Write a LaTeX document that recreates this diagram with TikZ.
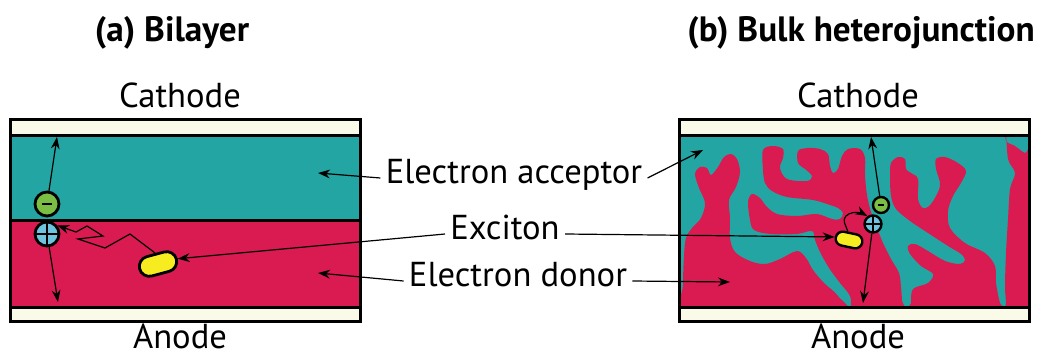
\documentclass[tikz,border=0pt]{standalone}
\usepackage{fontspec}
\setmainfont{PT Sans}
\usetikzlibrary{arrows.meta}
\usetikzlibrary{shapes.misc, calc}

\definecolor{acceptor}{RGB}{35,166,163}
\definecolor{donor}{RGB}{218,27,82}
\definecolor{electrode}{RGB}{250,250,233}
\definecolor{electron}{RGB}{122,190,67}
\definecolor{hole}{RGB}{110,196,222}
\definecolor{pair}{RGB}{246,236,32}

\tikzset{
  frame/.style={line width=1.5pt},
  txt/.style={font=\fontsize{17.3}{20}\selectfont, inner xsep=2.5pt},
  heading/.style={font=\fontsize{17.6}{20}\selectfont\bfseries},
  charge/.style={circle, draw, inner sep=0pt},
  minus/.style={charge, fill=electron, path picture={
      \draw[line width=1.3pt]
        ($(path picture bounding box.center)!0.4!(path picture bounding box.west)$) --
        ($(path picture bounding box.center)!0.4!(path picture bounding box.east)$);}},
  plus/.style={charge, fill=hole, path picture={
      \draw[line width=0.8pt]
        (path picture bounding box.north) -- (path picture bounding box.south)
        (path picture bounding box.west) -- (path picture bounding box.east);}},
  capsule/.style={rounded rectangle, draw, fill=pair, inner sep=0pt},
  hop/.style={line width=0.6pt}
}

\begin{document}
\begin{tikzpicture}[x=0.5pt,y=-0.5pt,>={Stealth[length=6pt,width=4.4pt]}]

\useasboundingbox (0,0) rectangle (1043,358);

\node[heading, anchor=base] (ta) at (172,42) {(a) Bilayer};
\node[heading, anchor=base] (tb) at (861,42) {(b) Bulk heterojunction};

\node[txt, anchor=base] (cta) at (180,107) {Cathode};
\node[txt, anchor=base] (ctb) at (858,107) {Cathode};
\node[txt, anchor=base, inner ysep=0pt] (ana) at (180,348) {Anode};
\node[txt, anchor=base, inner ysep=0pt] (anb) at (858,348) {Anode};

% bilayer
\fill[acceptor] (10,135) rectangle (360,220);
\fill[donor] (10,220) rectangle (360,307);
\draw[frame] (10,220) -- (360,220);

% blend
\begin{scope}
\clip (680,135) rectangle (1028,307);
\fill[acceptor] (680,135) rectangle (1028,307);
\fill[donor] plot[smooth cycle, tension=0.55] coordinates {
  (684,315) (683,285) (684,255) (686,238) (692,228) (701,218) (705,203)
  (699,188) (695,174) (700,167) (707,168) (711,175) (718,167) (724,157)
  (731,154) (737,159) (740,172) (736,187) (729,200) (730,218) (730,238)
  (735,252) (750,261) (765,264) (780,259) (797,251) (806,258) (813,270)
  (824,283) (838,296) (846,315) (760,318)};
\fill[donor] plot[smooth cycle, tension=0.55] coordinates {
  (763,150) (763,170) (765,183) (772,191) (787,197) (813,200) (830,205)
  (838,208) (843,213) (840,219) (832,219) (817,214) (797,216) (777,214)
  (766,206) (760,198) (752,194) (748,202) (750,220) (754,230) (770,234)
  (797,234) (812,231) (815,240) (820,252) (829,268) (840,283) (850,296)
  (856,315) (903,315) (902,300) (901,287) (899,273) (891,259) (883,243)
  (877,228) (871,212) (867,195) (865,175) (865,158) (860,149) (848,149)
  (842,156) (838,169) (833,173) (830,166) (828,154) (820,149) (807,148)
  (798,151) (798,163) (805,169) (812,176) (807,181) (787,179) (780,168)
  (783,158) (783,149) (773,146)};
\fill[donor] plot[smooth cycle, tension=0.55] coordinates {
  (891,163) (898,157) (905,159) (906,169) (911,173) (918,179) (918,199)
  (923,208) (931,204) (940,186) (936,169) (936,159) (945,157) (958,163)
  (966,171) (961,183) (953,196) (948,211) (950,228) (965,243) (985,253)
  (995,266) (996,283) (1000,303) (1005,315) (911,315) (911,303) (913,289)
  (928,283) (933,274) (921,266) (910,254) (908,246) (915,244) (928,251)
  (945,261) (960,264) (965,260) (961,254) (948,246) (928,233) (910,221)
  (896,209) (891,196) (890,176)};
\fill[donor] plot[smooth cycle, tension=0.55] coordinates {
  (1006,130) (1006,141) (1015,146) (1025,153) (1035,153) (1035,315)
  (1006,315) (1006,303) (1005,286) (1006,253) (1008,219) (1010,189)
  (1015,173) (1008,159)};
\end{scope}

\foreach \x in {10,679} {
  \fill[electrode] (\x,120) rectangle ++(350,15);
  \fill[electrode] (\x,307) rectangle ++(350,14);
  \draw[frame] (\x,135) -- ++(350,0) (\x,307) -- ++(350,0);
  \draw[frame] (\x,120) rectangle ++(350,201);
}

% charges and excitons
\node[minus, minimum size=12pt, line width=1.4pt] (eml) at (47,204) {};
\node[plus, minimum size=12pt, line width=1.4pt] (hpl) at (47,234) {};
\node[capsule, minimum width=19pt, minimum height=10pt, line width=1.4pt, rotate=15] (exl) at (158,264) {};

\node[minus, minimum size=8pt, line width=1.2pt] (emr) at (881,205) {};
\node[plus, minimum size=8.5pt, line width=1.2pt] (hpr) at (873,224) {};
\node[capsule, minimum width=13.5pt, minimum height=7pt, line width=1.2pt, rotate=-12] (exr) at (849,240) {};

\coordinate (cl) at (57,137);
\coordinate (al) at (58,302);
\coordinate (cr) at (871,137);
\coordinate (ar) at (863,303);

\draw[hop, ->] (eml) -- (cl);
\draw[hop, ->] (hpl) -- (al);
\draw[hop, ->] (emr) -- (cr);
\draw[hop, ->] (hpr) -- (ar);

\draw[hop, ->] (exl.north) -- (130,234) -- (105,248) -- (78,239) -- (103,236)
  -- (87,226) -- (76,232) -- (hpl.40);
\draw[hop, ->, rounded corners=2pt] (exr.110) -- (843,219) -- (849,213) -- (860,212) -- (hpr.125);

% labels
\node[txt, anchor=base] (acc) at (514,183) {Electron acceptor};
\node[txt, anchor=base] (exc) at (505,239) {Exciton};
\node[txt, anchor=base] (don) at (518,286) {Electron donor};

\coordinate (accl) at (318,173);
\coordinate (accr) at (703,150);
\coordinate (donl) at (318,273);
\coordinate (donr) at (730,282);

\draw[hop, ->] (acc.mid west) -- (accl);
\draw[hop, ->] (acc.mid east) -- (accr);
\draw[hop, ->] (exc.mid west) -- (exl.east);
\draw[hop, ->] (exc.mid east) -- (exr.west);
\draw[hop, ->] (don.mid west) -- (donl);
\draw[hop, ->] (don.mid east) -- (donr);

\end{tikzpicture}
\end{document}
